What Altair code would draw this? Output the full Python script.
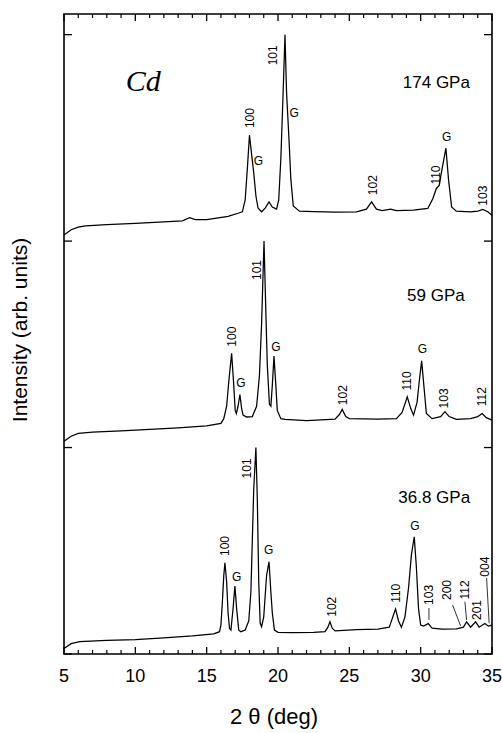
import altair as alt
import pandas as pd

# ---- trace data (2theta in deg, stacked intensity in arb. units) ----
x174 = [5.0, 5.5, 6.0, 6.5, 8.0, 10.0, 12.0, 13.3, 13.8, 14.2, 15.0, 16.5, 17.2, 17.5, 17.7, 17.85, 18.0, 18.15,
        18.3, 18.45, 18.6, 18.85, 19.1, 19.37, 19.6, 19.9, 20.05, 20.2, 20.35, 20.49, 20.6, 20.72, 20.8, 20.9,
        21.07, 21.5, 22.5, 24.0, 25.5, 26.2, 26.56, 26.9, 27.3, 27.9, 28.3, 29.5, 30.5, 30.85, 31.1, 31.3,
        31.5, 31.77, 31.95, 32.17, 32.5, 33.5, 34.0, 34.36, 34.7, 35.0]
y174 = [2.03, 2.055, 2.068, 2.074, 2.08, 2.086, 2.093, 2.098, 2.113, 2.104, 2.104, 2.12, 2.135, 2.142, 2.20, 2.35,
        2.513, 2.42, 2.33, 2.22, 2.16, 2.142, 2.16, 2.19, 2.165, 2.155, 2.20, 2.40, 2.70, 3.0, 2.72, 2.56, 2.45,
        2.30, 2.17, 2.145, 2.143, 2.14, 2.142, 2.155, 2.19, 2.155, 2.148, 2.155, 2.148, 2.15, 2.158, 2.205,
        2.255, 2.27, 2.35, 2.45, 2.30, 2.165, 2.145, 2.142, 2.145, 2.153, 2.142, 2.125]

x59 = [5.0, 5.5, 6.0, 7.0, 9.0, 11.0, 13.0, 15.0, 16.0, 16.2, 16.4, 16.55, 16.75, 16.9, 17.0, 17.08, 17.2, 17.33,
       17.45, 17.55, 17.8, 18.2, 18.5, 18.7, 18.85, 19.02, 19.15, 19.25, 19.4, 19.5, 19.6, 19.72, 19.85, 19.95,
       20.2, 20.5, 22.0, 24.0, 24.3, 24.5, 24.75, 25.0, 27.0, 28.3, 28.7, 29.06, 29.3, 29.5, 29.75, 29.9, 30.07,
       30.25, 30.4, 30.8, 31.4, 31.7, 32.0, 32.5, 33.5, 34.0, 34.31, 34.6, 35.0]
y59 = [1.031, 1.055, 1.069, 1.075, 1.081, 1.088, 1.095, 1.105, 1.117, 1.14, 1.20, 1.32, 1.456, 1.30, 1.18, 1.165,
       1.20, 1.257, 1.19, 1.157, 1.148, 1.15, 1.20, 1.35, 1.6, 2.0, 1.65, 1.40, 1.21, 1.20, 1.30, 1.443, 1.30,
       1.18, 1.14, 1.136, 1.13, 1.138, 1.16, 1.185, 1.15, 1.14, 1.138, 1.14, 1.17, 1.246, 1.19, 1.157, 1.22,
       1.32, 1.42, 1.28, 1.165, 1.14, 1.15, 1.174, 1.15, 1.137, 1.14, 1.15, 1.165, 1.145, 1.133]

x368 = [5.0, 5.5, 6.1, 8.0, 10.0, 12.0, 14.0, 15.5, 15.9, 16.0, 16.1, 16.2, 16.28, 16.4, 16.5, 16.6, 16.7, 16.85,
        16.98, 17.1, 17.25, 17.4, 17.7, 17.95, 18.1, 18.2, 18.3, 18.45, 18.55, 18.65, 18.75, 18.85, 19.0, 19.2,
        19.37, 19.5, 19.6, 19.75, 20.0, 21.0, 22.5, 23.3, 23.5, 23.64, 23.8, 24.0, 25.5, 27.0, 27.8, 28.0, 28.24,
        28.45, 28.65, 28.9, 29.15, 29.35, 29.55, 29.7, 29.85, 30.0, 30.2, 30.53, 30.8, 31.5, 32.5, 33.0, 33.22,
        33.5, 33.85, 34.1, 34.5, 34.75, 35.0]
y368 = [0.027, 0.05, 0.06, 0.066, 0.07, 0.078, 0.088, 0.098, 0.108, 0.14, 0.25, 0.38, 0.442, 0.35, 0.20, 0.125,
        0.116, 0.22, 0.329, 0.22, 0.115, 0.108, 0.116, 0.16, 0.30, 0.55, 0.80, 1.0, 0.75, 0.35, 0.15, 0.132, 0.18,
        0.38, 0.447, 0.30, 0.20, 0.116, 0.105, 0.103, 0.105, 0.108, 0.13, 0.156, 0.125, 0.112, 0.118, 0.12, 0.13,
        0.17, 0.218, 0.16, 0.129, 0.18, 0.32, 0.48, 0.568, 0.42, 0.22, 0.14, 0.135, 0.147, 0.125, 0.12, 0.122,
        0.13, 0.156, 0.13, 0.156, 0.13, 0.148, 0.135, 0.14]

# ---- peak labels ----
rot_text = ["100", "101", "102", "110", "103",
            "101", "100", "102", "110", "103", "112",
            "101", "100", "102", "110", "103", "200", "112", "201", "004"]
rot_x = [18.03, 19.62, 26.63, 31.05, 34.38,
         18.5, 16.75, 24.57, 29.01, 31.65, 34.27,
         17.8, 16.28, 23.76, 28.27, 30.6, 31.82, 33.1, 33.92, 34.5]
rot_y = [2.596, 2.90, 2.271, 2.32, 2.22,
         1.86, 1.537, 1.254, 1.323, 1.238, 1.246,
         0.899, 0.523, 0.229, 0.294, 0.286, 0.31, 0.31, 0.213, 0.423]

g_x = [18.62, 21.14, 31.82, 17.4, 19.86, 30.13, 17.1, 19.34, 29.6]
g_y = [2.389, 2.621, 2.502, 1.311, 1.489, 1.477, 0.374, 0.504, 0.622]

p_text = ["174 GPa", "59 GPa", "36.8 GPa"]
p_x = [31.1, 31.07, 30.95]
p_y = [2.767, 1.735, 0.754]

lead_x = [30.58, 32.24, 33.10, 34.62]
lead_y = [0.223, 0.237, 0.253, 0.368]
lead_x2 = [30.58, 32.80, 33.22, 34.80]
lead_y2 = [0.165, 0.136, 0.165, 0.149]

major_x = [5, 10, 15, 20, 25, 30, 35]
minor_x = [v for v in range(5, 36) if v % 5 != 0]
major_y = [0, 1, 2, 3]

x_title = "2  θ  (deg)"
y_title = "Intensity  (arb.  units)"

frames = []
for name, xs_, ys_ in [("174", x174, y174), ("59", x59, y59), ("36.8", x368, y368)]:
    frames.append(pd.DataFrame({"x": xs_, "y": ys_, "series": name}))
traces = pd.concat(frames, ignore_index=True)

rot_df = pd.DataFrame({"x": rot_x, "y": rot_y, "t": rot_text})
g_df = pd.DataFrame({"x": g_x, "y": g_y, "t": ["G"] * len(g_x)})
p_df = pd.DataFrame({"x": p_x, "y": p_y, "t": p_text})
lead_df = pd.DataFrame({"x": lead_x, "y": lead_y, "x2": lead_x2, "y2": lead_y2})
cd_df = pd.DataFrame({"x": [10.56], "y": [2.77], "t": ["Cd"]})
majx_df = pd.DataFrame({"x": major_x, "t": [str(v) for v in major_x]})
minx_df = pd.DataFrame({"x": minor_x})
majy_df = pd.DataFrame({"y": major_y})
xt_df = pd.DataFrame({"t": [x_title]})
yt_df = pd.DataFrame({"t": [y_title]})

W, H = 428, 640
xs = alt.Scale(domain=[5, 35], nice=False, zero=False)
ys = alt.Scale(domain=[0, 3.1], nice=False, zero=False)
FONT = "Liberation Sans"


def xenc():
    return alt.X("x:Q", scale=xs, axis=None)


def yenc():
    return alt.Y("y:Q", scale=ys, axis=None)


lines = alt.Chart(traces).mark_line(color="black", strokeWidth=1.25).encode(
    x=xenc(), y=yenc(), detail="series:N")

# tick marks drawn inward on all four sides
tb_major = alt.Chart(majx_df).mark_rule(color="black", strokeWidth=1.3).encode(
    x=xenc(), y=alt.value(H), y2=alt.value(H - 7))
tt_major = alt.Chart(majx_df).mark_rule(color="black", strokeWidth=1.3).encode(
    x=xenc(), y=alt.value(0), y2=alt.value(7))
tb_minor = alt.Chart(minx_df).mark_rule(color="black", strokeWidth=1.2).encode(
    x=xenc(), y=alt.value(H), y2=alt.value(H - 4))
tt_minor = alt.Chart(minx_df).mark_rule(color="black", strokeWidth=1.2).encode(
    x=xenc(), y=alt.value(0), y2=alt.value(4))
tl = alt.Chart(majy_df).mark_rule(color="black", strokeWidth=1.3).encode(
    y=yenc(), x=alt.value(0), x2=alt.value(8))
tr = alt.Chart(majy_df).mark_rule(color="black", strokeWidth=1.3).encode(
    y=yenc(), x=alt.value(W), x2=alt.value(W - 8))

# tick labels and axis titles
xlab = alt.Chart(majx_df).mark_text(font=FONT, fontSize=18, color="black",
                                    align="center", baseline="middle").encode(
    x=xenc(), y=alt.value(H + 23), text="t:N")
xtitle = alt.Chart(xt_df).mark_text(font=FONT, fontSize=22, color="black",
                                    align="center", baseline="middle").encode(
    x=alt.value(210), y=alt.value(H + 63), text="t:N")
ytitle = alt.Chart(yt_df).mark_text(font=FONT, fontSize=21, color="black", angle=270,
                                    align="center", baseline="middle").encode(
    x=alt.value(-43), y=alt.value(316), text="t:N")

rot = alt.Chart(rot_df).mark_text(angle=270, font=FONT, fontSize=12, color="black",
                                  align="center", baseline="middle").encode(
    x=xenc(), y=yenc(), text="t:N")
gl = alt.Chart(g_df).mark_text(font=FONT, fontSize=12, color="black",
                               align="center", baseline="middle").encode(
    x=xenc(), y=yenc(), text="t:N")
pl = alt.Chart(p_df).mark_text(font=FONT, fontSize=17, color="black",
                               align="center", baseline="middle").encode(
    x=xenc(), y=yenc(), text="t:N")
cd = alt.Chart(cd_df).mark_text(font="Liberation Serif", fontSize=30, fontStyle="italic", color="black",
                                align="center", baseline="middle").encode(
    x=xenc(), y=yenc(), text="t:N")
leads = alt.Chart(lead_df).mark_rule(color="black", strokeWidth=0.8).encode(
    x=xenc(), y=yenc(), x2="x2:Q", y2="y2:Q")

chart = alt.layer(lines, tb_major, tt_major, tb_minor, tt_minor, tl, tr, xlab, xtitle, ytitle,
                  rot, gl, pl, cd, leads).properties(
    width=W, height=H,
    autosize=alt.AutoSizeParams(type="none"),
    padding={"left": 64, "top": 14, "right": 10, "bottom": 79},
    background="white",
).configure_view(stroke="black", strokeWidth=1.6)

chart.save("out.html", embed_options={"renderer": "svg", "actions": False})
